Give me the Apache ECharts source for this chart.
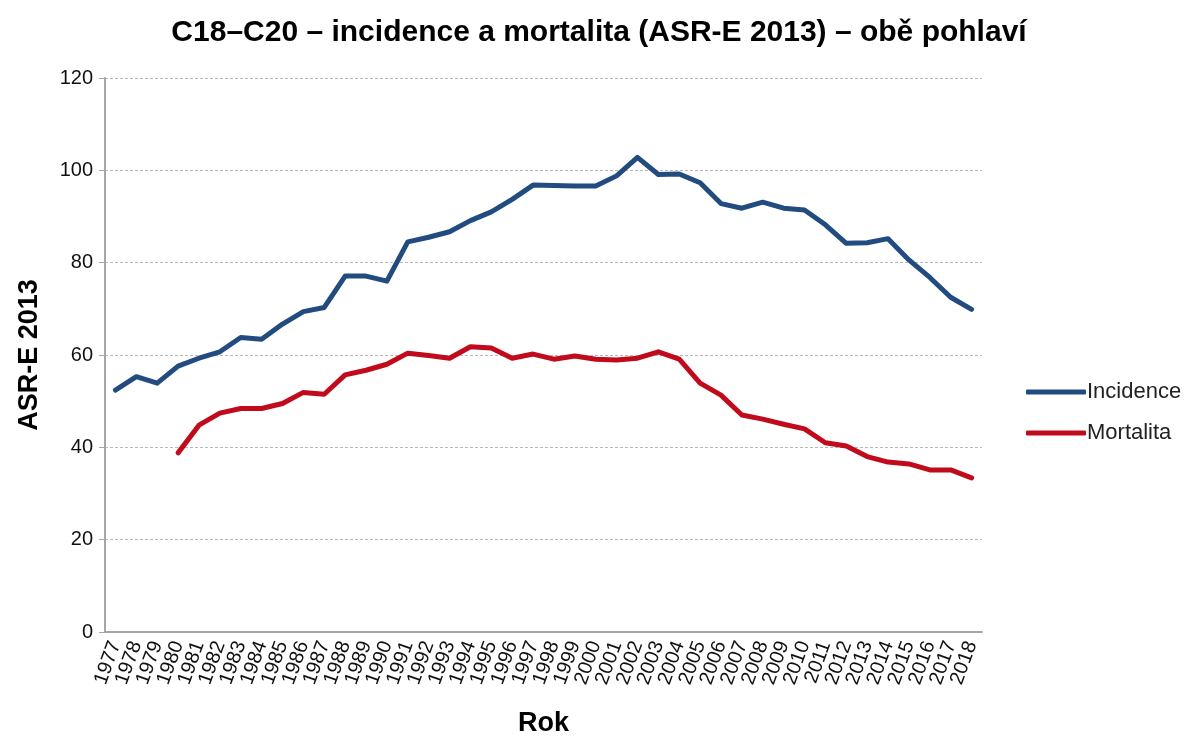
<!DOCTYPE html>
<html>
<head>
  <meta charset="UTF-8">
  <title>C18-C20</title>
  <style>
    html, body { margin: 0; padding: 0; background: #fff; }
    #main { width: 1184px; height: 737px; }
  </style>
  <script src="https://cdn.jsdelivr.net/npm/echarts@6/dist/echarts.min.js"></script>
</head>
<body>
<div id="main"></div>
<script type="text/javascript">
  const years = ['1977', '1978', '1979', '1980', '1981', '1982', '1983', '1984', '1985', '1986',
    '1987', '1988', '1989', '1990', '1991', '1992', '1993', '1994', '1995', '1996',
    '1997', '1998', '1999', '2000', '2001', '2002', '2003', '2004', '2005', '2006',
    '2007', '2008', '2009', '2010', '2011', '2012', '2013', '2014', '2015', '2016',
    '2017', '2018'];

  const incidence = [52.4, 55.3, 53.9, 57.6, 59.3, 60.7, 63.8, 63.4, 66.7, 69.4,
    70.3, 77.1, 77.1, 76.0, 84.5, 85.5, 86.7, 89.1, 91.0, 93.7,
    96.8, 96.7, 96.6, 96.6, 98.8, 102.8, 99.1, 99.2, 97.3, 92.8,
    91.8, 93.1, 91.8, 91.4, 88.2, 84.2, 84.3, 85.2, 80.6, 76.8,
    72.5, 69.9];

  const mortalita = [null, null, null, 38.8, 44.8, 47.4, 48.4, 48.4, 49.5, 51.9,
    51.5, 55.7, 56.7, 58.0, 60.4, 59.9, 59.3, 61.8, 61.5, 59.3,
    60.2, 59.1, 59.8, 59.1, 58.9, 59.3, 60.7, 59.1, 53.9, 51.3,
    47.0, 46.1, 45.0, 44.0, 41.0, 40.3, 38.0, 36.8, 36.4, 35.1,
    35.1, 33.4];

  const colors = ['#224c80', '#c10a1c'];
  const font = 'Liberation Sans, Arial, sans-serif';

  const chart = echarts.init(document.getElementById('main'));

  const option = {
    animation: false,
    color: colors,
    textStyle: { fontFamily: font },
    title: {
      text: 'C18–C20 – incidence a mortalita (ASR-E 2013) – obě pohlaví',
      left: 594,
      textAlign: 'center',
      top: 13,
      textStyle: { fontFamily: font, fontSize: 30, fontWeight: 'bold', color: '#000' }
    },
    legend: {
      orient: 'vertical',
      left: 1021,
      top: 376,
      itemWidth: 60,
      itemHeight: 5,
      itemGap: 19,
      icon: 'roundRect',
      textStyle: { fontFamily: font, fontSize: 22, color: '#222', padding: [0, 0, 0, -4] },
      data: ['Incidence', 'Mortalita']
    },
    grid: {
      left: 105,
      right: 202,
      top: 78,
      bottom: 105,
      outerBoundsMode: 'none',
      containLabel: false
    },
    xAxis: {
      type: 'category',
      data: years,
      boundaryGap: true,
      name: 'Rok',
      nameLocation: 'middle',
      nameGap: 78,
      nameTextStyle: { fontFamily: font, fontSize: 27, fontWeight: 'bold', color: '#000' },
      axisLine: { lineStyle: { color: '#a6a6a6', width: 2 } },
      axisTick: { show: false },
      axisLabel: {
        interval: 0,
        rotate: 70,
        fontSize: 20,
        color: '#111',
        margin: 10
      }
    },
    yAxis: {
      type: 'value',
      min: 0,
      max: 120,
      interval: 20,
      name: 'ASR-E 2013',
      nameLocation: 'middle',
      nameGap: 62,
      nameTextStyle: { fontFamily: font, fontSize: 27, fontWeight: 'bold', color: '#000' },
      axisLine: { show: true, lineStyle: { color: '#a6a6a6', width: 2 } },
      axisTick: { show: true, length: 6, lineStyle: { color: '#a6a6a6' } },
      axisLabel: { fontSize: 20, color: '#111', margin: 12 },
      splitLine: { lineStyle: { color: '#b8b8b8', type: [3, 2], width: 1 } }
    },
    series: [
      {
        name: 'Incidence',
        type: 'line',
        data: incidence,
        symbol: 'none',
        lineStyle: { width: 5, cap: 'round', join: 'round' }
      },
      {
        name: 'Mortalita',
        type: 'line',
        data: mortalita,
        symbol: 'none',
        lineStyle: { width: 5, cap: 'round', join: 'round' }
      }
    ]
  };

  chart.setOption(option);
</script>
</body>
</html>
